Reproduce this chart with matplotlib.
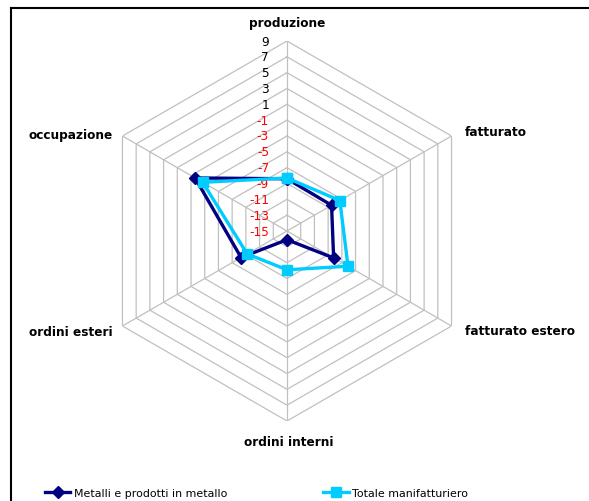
import numpy as np
import matplotlib
matplotlib.use("Agg")
import matplotlib.pyplot as plt
from matplotlib.lines import Line2D

categories = ["produzione", "fatturato", "fatturato estero",
              "ordini interni", "ordini esteri", "occupazione"]
metalli = [-8.4, -8.5, -8.2, -13.9, -8.3, -1.6]
totale = [-8.3, -7.3, -6.1, -10.1, -9.2, -2.7]
rings = [9, 7, 5, 3, 1, -1, -3, -5, -7, -9, -11, -13, -15]
r_min, r_max = -15, 9

plt.rcParams["font.family"] = "DejaVu Sans"

fig = plt.figure(figsize=(5.89, 5.02), dpi=100)
ax = fig.add_axes([97 / 589, 80 / 502, 380 / 589, 380 / 502], projection="polar")
ax.set_theta_offset(np.pi / 2)
ax.set_theta_direction(-1)
ax.set_ylim(r_min, r_max)
ax.set_xticks([])
ax.set_yticks([])
ax.grid(False)
ax.spines["polar"].set_visible(False)
ax.patch.set_alpha(0)

angles = np.linspace(0, 2 * np.pi, len(categories), endpoint=False)
closed = np.append(angles, angles[0])

# hexagonal grid rings and spokes
grid_col = "#c0c0c0"
for v in rings[:-1]:
    ax.plot(closed, [v] * len(closed), color=grid_col, lw=0.9, zorder=1)
for a in angles:
    ax.plot([a, a], [r_min, r_max], color=grid_col, lw=0.9, zorder=1)

# value labels along the vertical axis
for v in rings:
    ax.annotate(str(v), xy=(0, v), xytext=(-18, 0), textcoords="offset pixels",
                ha="right", va="center", fontsize=8.7,
                color="black" if v > 0 else "#ff0000", annotation_clip=False)

# category labels around the web
offsets = [(0, 19, "center"), (13, 4, "left"), (13, -5, "left"),
           (2, -21, "center"), (-10, -5, "right"), (-10, 2, "right")]
for a, name, (dx, dy, ha) in zip(angles, categories, offsets):
    ax.annotate(name, xy=(a, r_max), xytext=(dx, dy), textcoords="offset pixels",
                ha=ha, va="center", fontsize=8.7, fontweight="bold",
                annotation_clip=False)

ax.plot(closed, metalli + metalli[:1], color="#000080", lw=2.4, marker="D",
        markersize=6.3, zorder=3, clip_on=False)
ax.plot(closed, totale + totale[:1], color="#00ccff", lw=2.4, marker="s",
        markersize=7.2, zorder=4, clip_on=False)

handles = [
    Line2D([], [], color="#000080", lw=2.4, marker="D", markersize=6.3),
    Line2D([], [], color="#00ccff", lw=2.4, marker="s", markersize=7.2),
]
fig.legend(handles, ["Metalli e prodotti in metallo", "Totale manifatturiero"],
           loc="center left", bbox_to_anchor=(45 / 589, 1 - 494 / 502),
           ncol=2, frameon=False, fontsize=7.9, handlelength=2.3,
           handletextpad=0.3, columnspacing=8.8, borderpad=0, borderaxespad=0)

# chart border (top and left edges visible)
fig.add_artist(Line2D([11 / 589, 1], [1 - 9 / 502, 1 - 9 / 502],
                      transform=fig.transFigure, color="black", lw=1.5))
fig.add_artist(Line2D([11 / 589, 11 / 589], [0, 1 - 9 / 502],
                      transform=fig.transFigure, color="black", lw=1.5))

fig.savefig("out.png", dpi=100)
